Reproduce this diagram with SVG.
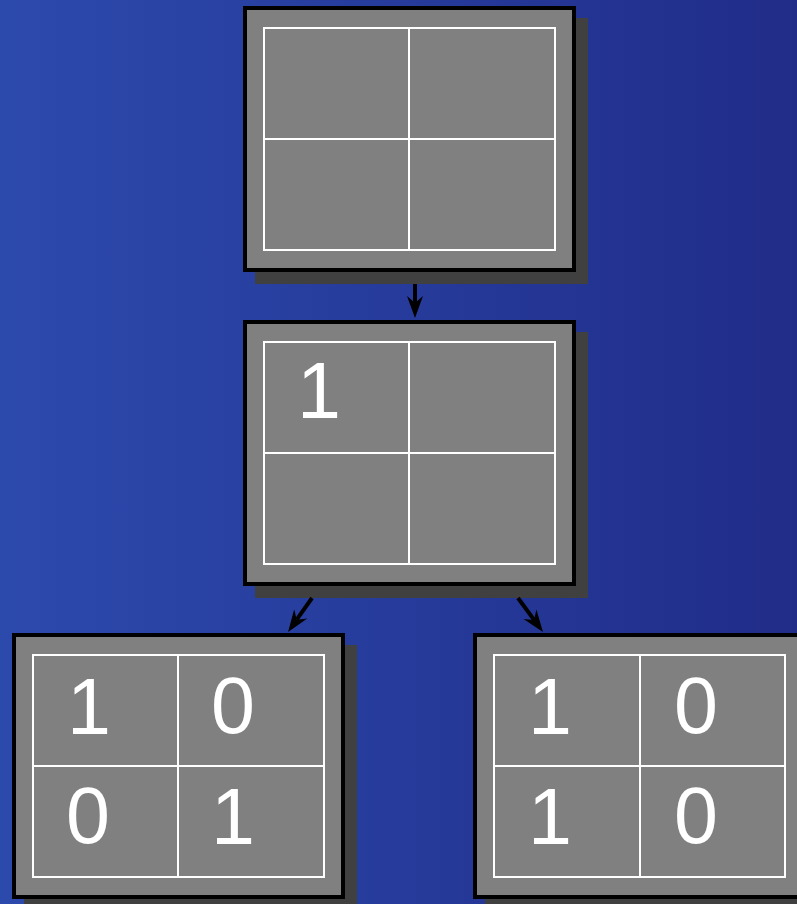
<svg xmlns="http://www.w3.org/2000/svg" width="797" height="904" viewBox="0 0 797 904">
  <defs>
    <linearGradient id="bg" x1="0" y1="0" x2="1" y2="0">
      <stop offset="0" stop-color="#2c4aac"/>
      <stop offset="0.5" stop-color="#263b9b"/>
      <stop offset="1" stop-color="#212c88"/>
    </linearGradient>
    <marker id="arr" markerUnits="userSpaceOnUse" viewBox="-22 -10 24 20" refX="-15" refY="0" markerWidth="24" markerHeight="20" orient="auto">
      <path d="M0,0 L-22,-8 L-15,0 L-22,8 Z" fill="#000"/>
    </marker>
    <style>
      .shadow { fill: #404040; }
      .box { fill: #808080; stroke: #000; stroke-width: 4; }
      .grid { fill: none; stroke: #fff; stroke-width: 2; }
      .num { font-family: "Liberation Sans", Arial, sans-serif; font-size: 79px; fill: #fff; text-anchor: middle; }
      .conn { stroke: #000; stroke-width: 4; fill: none; }
    </style>
  </defs>
  <rect x="0" y="0" width="797" height="904" fill="url(#bg)"/>

  <g id="node-top" transform="translate(243,6)">
    <rect class="shadow" x="12" y="12" width="333" height="266"/>
    <rect class="box" x="2" y="2" width="329" height="262"/>
    <rect class="grid" x="21" y="22" width="291" height="222"/>
    <line class="grid" x1="166" y1="22" x2="166" y2="244"/>
    <line class="grid" x1="21" y1="133" x2="312" y2="133"/>
  </g>

  <g id="node-middle" transform="translate(243,320)">
    <rect class="shadow" x="12" y="12" width="333" height="266"/>
    <rect class="box" x="2" y="2" width="329" height="262"/>
    <rect class="grid" x="21" y="22" width="291" height="222"/>
    <line class="grid" x1="166" y1="22" x2="166" y2="244"/>
    <line class="grid" x1="21" y1="133" x2="312" y2="133"/>
    <text class="num" x="76" y="98">1</text>
  </g>

  <g id="node-bottom-left" transform="translate(12,633)">
    <rect class="shadow" x="12" y="12" width="333" height="266"/>
    <rect class="box" x="2" y="2" width="329" height="262"/>
    <rect class="grid" x="21" y="22" width="291" height="222"/>
    <line class="grid" x1="166" y1="22" x2="166" y2="244"/>
    <line class="grid" x1="21" y1="133" x2="312" y2="133"/>
    <text class="num" x="77" y="101">1</text>
    <text class="num" x="221" y="100">0</text>
    <text class="num" x="76" y="210">0</text>
    <text class="num" x="221" y="211">1</text>
  </g>

  <g id="node-bottom-right" transform="translate(473,633)">
    <rect class="shadow" x="12" y="12" width="333" height="266"/>
    <rect class="box" x="2" y="2" width="329" height="262"/>
    <rect class="grid" x="21" y="22" width="291" height="222"/>
    <line class="grid" x1="167" y1="22" x2="167" y2="244"/>
    <line class="grid" x1="21" y1="133" x2="312" y2="133"/>
    <text class="num" x="77" y="101">1</text>
    <text class="num" x="223" y="100">0</text>
    <text class="num" x="77" y="211">1</text>
    <text class="num" x="223" y="210">0</text>
  </g>

  <g id="connectors">
    <line class="conn" x1="415" y1="284" x2="415" y2="303" marker-end="url(#arr)"/>
    <line class="conn" x1="312" y1="598" x2="296.7" y2="619.7" marker-end="url(#arr)"/>
    <line class="conn" x1="518" y1="598" x2="534.1" y2="619.9" marker-end="url(#arr)"/>
  </g>
</svg>
